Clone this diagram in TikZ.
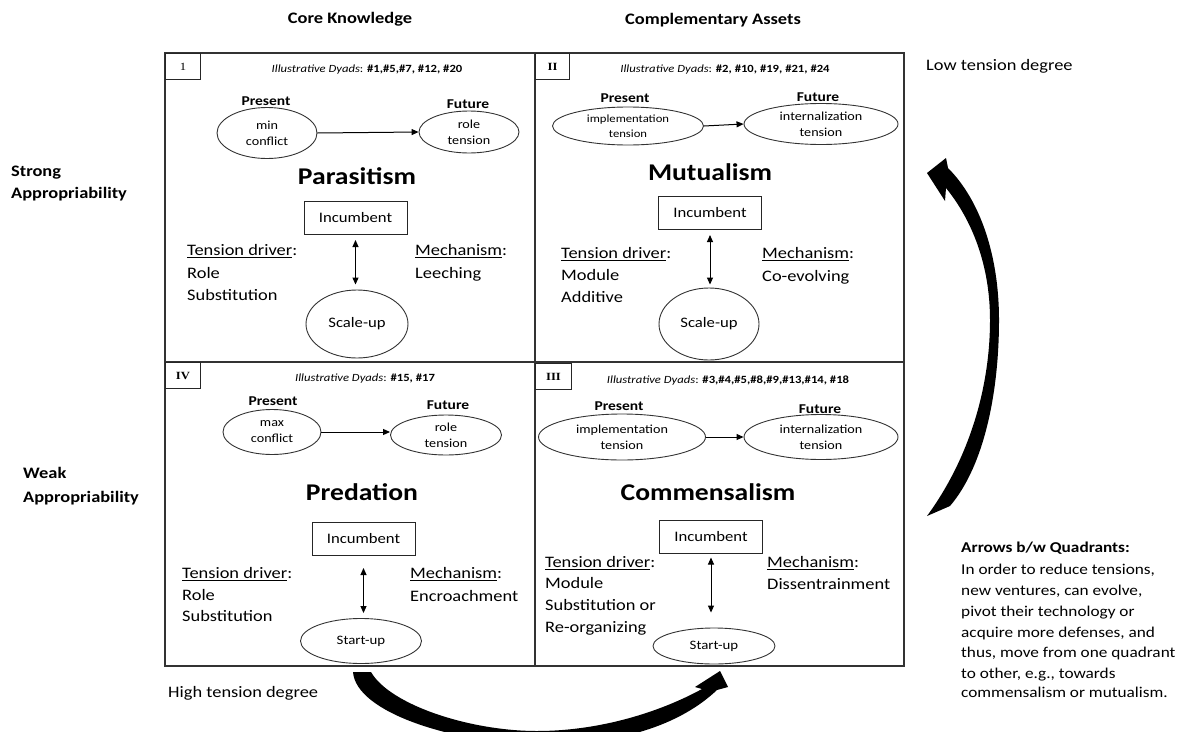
\documentclass[tikz,border=0pt]{standalone}
\usepackage{fontspec}
\setmainfont{Carlito}[FakeStretch=1.15]
\newfontfamily\numfont{Liberation Serif}[FakeStretch=1.15]
\usetikzlibrary{arrows.meta,shapes.geometric}
% underline with a rule of chosen weight and depth
\newcommand\uln[1]{\setbox0\hbox{#1}\rlap{\rule[-3pt]{\wd0}{1.1pt}}\box0}
\begin{document}
\begin{tikzpicture}[x=1pt,y=-1pt,
  frame/.style={draw=black!80, line width=1.3pt},
  lbl/.style={inner sep=0pt, anchor=mid west, yshift=-2pt, font=\fontsize{16}{19}\selectfont},
  side/.style={inner sep=0pt, anchor=mid west, yshift=-1.5pt, font=\fontsize{15}{18}\selectfont},
  head/.style={inner sep=0pt, anchor=mid, yshift=-2pt, font=\bfseries\fontsize{16}{19}\selectfont},
  title/.style={inner sep=0pt, anchor=mid, yshift=-4pt, font=\bfseries\fontsize{24}{28}\selectfont},
  dyad/.style={inner sep=0pt, anchor=mid, yshift=-1.5pt, font=\fontsize{11}{13}\selectfont},
  pf/.style={inner sep=0pt, anchor=mid, yshift=-2pt, font=\bfseries\fontsize{13.5}{16}\selectfont},
  ell/.style 2 args={draw=black!80, line width=0.9pt, ellipse, inner sep=0pt, align=center,
    minimum width=#1pt, minimum height=#2pt, font=\fontsize{12.3}{16}\selectfont},
  incb/.style={draw=black!85, line width=1pt, rectangle, inner sep=0pt,
    minimum width=103pt, minimum height=33pt, font=\fontsize{14.5}{17}\selectfont},
  qnum/.style={draw=black!85, line width=1pt, rectangle, inner sep=0pt,
    minimum height=26pt, font=\numfont\fontsize{11}{13}\selectfont},
  arr/.style={-{Triangle[length=7pt,width=6pt]}, line width=1pt},
  dbl/.style={{Triangle[length=7pt,width=6pt]}-{Triangle[length=7pt,width=6pt]}, line width=1pt},
]
\useasboundingbox (0,0) rectangle (1178,731);
\clip (0,0) rectangle (1178,731);

% axis headings
\node[head] (ck) at (350,19) {Core Knowledge};
\node[head] (ca) at (713,20) {Complementary Assets};
\node[head, anchor=mid west] (s1) at (11,172) {Strong};
\node[head, anchor=mid west] (s2) at (11,194) {Appropriability};
\node[head, anchor=mid west] (w1) at (23,474) {Weak};
\node[head, anchor=mid west] (w2) at (23,498) {Appropriability};
\node[lbl] (low) at (926,66) {Low tension degree};
\node[lbl] (high) at (168,693) {High tension degree};

% the 2x2 grid
\draw[frame] (165,53) rectangle (904,666);
\draw[frame] (535,53) -- (535,666);
\draw[frame] (165,362) -- (904,362);

% quadrant numbers
\node[qnum, minimum width=35pt, anchor=north west] (n1) at (165,53) {1};
\node[qnum, minimum width=34pt, anchor=north west] (n2) at (535,53) {\bfseries II};
\node[qnum, minimum width=35pt, anchor=north west] (n4) at (165,362) {\bfseries IV};
\node[qnum, minimum width=36pt, anchor=north west] (n3) at (535,363) {\bfseries III};

% ---------- I : Parasitism ----------
\node[dyad] (d1) at (367,69) {\textit{Illustrative Dyads}: \textbf{\#1,\#5,\#7, \#12, \#20}};
\node[pf] (pl1) at (266,101) {Present};
\node[pf] (fl1) at (468,104) {Future};
\node[ell={100}{51}] (p1) at (267,133) {min\\conflict};
\node[ell={100}{42}] (f1) at (469,132) {role\\tension};
\draw[arr] (p1.east) -- (f1.west);
\node[title] (t1) at (357,178) {Parasitism};
\node[incb] (i1) at (355.5,218) {Incumbent};
\node[ell={102}{68}, font=\fontsize{14.5}{17}\selectfont] (e1) at (357,324) {Scale-up};
\draw[dbl, shorten <=5pt, shorten >=5pt] (i1.south) -- (i1.south |- e1.north);
\node[lbl] (td1) at (187,251) {\uln{Tension driver}:};
\node[lbl] (td1a) at (187,274) {Role};
\node[lbl] (td1b) at (187,296) {Substitution};
\node[lbl] (m1) at (415,251) {\uln{Mechanism}:};
\node[lbl] (m1a) at (415,274) {Leeching};

% ---------- II : Mutualism ----------
\node[dyad] (d2) at (725,69) {\textit{Illustrative Dyads}: \textbf{\#2, \#10, \#19, \#21, \#24}};
\node[pf] (pl2) at (625,98) {Present};
\node[pf] (fl2) at (818,97) {Future};
\node[ell={151}{38}, font=\fontsize{11}{15}\selectfont] (p2) at (628,126) {implementation\\tension};
\node[ell={154}{41}] (f2) at (821,124) {internalization\\tension};
\draw[arr] (p2.east) -- (f2.west);
\node[title] (t2) at (710,174) {Mutualism};
\node[incb] (i2) at (710,213) {Incumbent};
\node[ell={100}{72}, font=\fontsize{14.5}{17}\selectfont] (e2) at (709,324) {Scale-up};
\draw[dbl, shorten <=5pt, shorten >=3pt] (i2.south) -- (i2.south |- e2.north);
\node[lbl] (td2) at (561,254) {\uln{Tension driver}:};
\node[lbl] (td2a) at (561,276) {Module};
\node[lbl] (td2b) at (561,298) {Additive};
\node[lbl] (m2) at (762,254) {\uln{Mechanism}:};
\node[lbl] (m2a) at (762,277) {Co-evolving};

% ---------- IV : Predation ----------
\node[dyad] (d4) at (365,378) {\textit{Illustrative Dyads}: \textbf{\#15, \#17}};
\node[pf] (pl4) at (273,401) {Present};
\node[pf] (fl4) at (448,405) {Future};
\node[ell={98}{45}] (p4) at (272,432) {max\\conflict};
\node[ell={111}{40}] (f4) at (446,435) {role\\tension};
\draw[arr] (p4.east) -- (p4.east -| f4.west);
\node[title] (t4) at (362,494) {Predation};
\node[incb] (i4) at (363.5,539) {Incumbent};
\node[ell={121}{45}, font=\fontsize{12.9}{15}\selectfont] (e4) at (361,641) {Start-up};
\draw[dbl, shorten <=12pt, shorten >=5pt] (i4.south) -- (i4.south |- e4.north);
\node[lbl] (td4) at (182,574) {\uln{Tension driver}:};
\node[lbl] (td4a) at (182,596) {Role};
\node[lbl] (td4b) at (182,617) {Substitution};
\node[lbl] (m4) at (410,574) {\uln{Mechanism}:};
\node[lbl] (m4a) at (410,597) {Encroachment};

% ---------- III : Commensalism ----------
\node[dyad] (d3) at (728,380) {\textit{Illustrative Dyads}: \textbf{\#3,\#4,\#5,\#8,\#9,\#13,\#14, \#18}};
\node[pf] (pl3) at (619,406) {Present};
\node[pf] (fl3) at (820,409) {Future};
\node[ell={167}{46}] (p3) at (622,437) {implementation\\tension};
\node[ell={154}{45}] (f3) at (821,437) {internalization\\tension};
\draw[arr] (p3.east) -- (f3.west);
\node[title] (t3) at (708,494) {Commensalism};
\node[incb] (i3) at (711,536.5) {Incumbent};
\node[ell={122}{36}, font=\fontsize{12.9}{15}\selectfont] (e3) at (714,646) {Start-up};
\draw[dbl, shorten <=4pt, shorten >=15pt] (i3.south) -- (i3.south |- e3.north);
\node[lbl] (td3) at (545,563) {\uln{Tension driver}:};
\node[lbl] (td3a) at (545,584) {Module};
\node[lbl] (td3b) at (545,606) {Substitution or};
\node[lbl] (td3c) at (545,628) {Re-organizing};
\node[lbl] (m3) at (767,563) {\uln{Mechanism}:};
\node[lbl] (m3a) at (767,585) {Dissentrainment};

% movement between quadrants: two broad curved arrows
\fill[black] (371,672) .. controls (390,705) and (470,731) .. (537,731)
  .. controls (600,731) and (660,712) .. (702,689) -- (695,687) -- (720,671)
  -- (728,687) -- (717,690) .. controls (680,725) and (620,745) .. (537,745)
  .. controls (450,742) and (356,712) .. (353,672) -- cycle;
\fill[black] (950,506) .. controls (985,465) and (999,390) .. (999,320)
  .. controls (999,255) and (980,200) .. (948,168) -- (946,158) -- (927,173)
  -- (945,201) -- (946,188) .. controls (972,220) and (990,265) .. (990,320)
  .. controls (990,390) and (968,460) .. (927,516) -- cycle;

% note on the arrows
\node[side, font=\bfseries\fontsize{15}{18}\selectfont] (a0) at (961,549) {Arrows b/w Quadrants:};
\node[side] (a1) at (961,571) {In order to reduce tensions,};
\node[side] (a2) at (961,592) {new ventures, can evolve,};
\node[side] (a3) at (961,613) {pivot their technology or};
\node[side] (a4) at (961,634) {acquire more defenses, and};
\node[side] (a5) at (961,654) {thus, move from one quadrant};
\node[side] (a6) at (961,675) {to other, e.g., towards};
\node[side] (a7) at (961,694) {commensalism or mutualism.};
\end{tikzpicture}
\end{document}
